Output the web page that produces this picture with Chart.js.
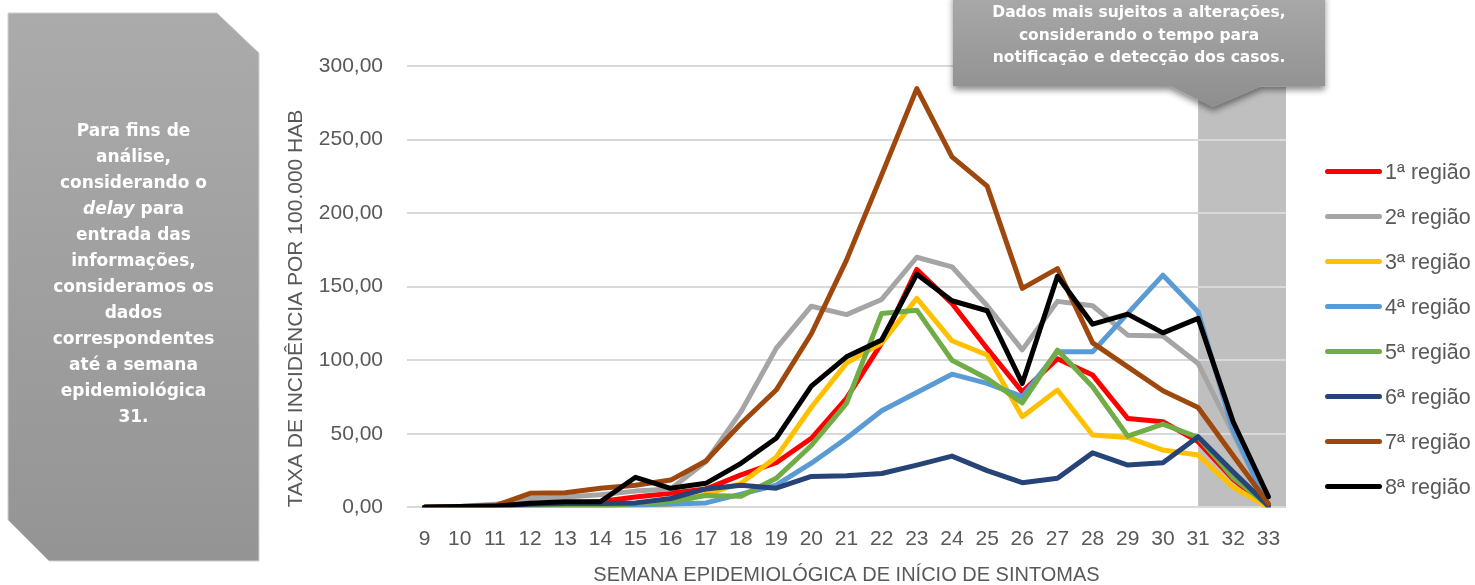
<!DOCTYPE html>
<html><head><meta charset="utf-8">
<script src="https://cdn.jsdelivr.net/npm/chart.js@4.4.1/dist/chart.umd.min.js"></script>
<style>
html,body{margin:0;padding:0;background:#fff;width:1475px;height:585px;overflow:hidden;}
#wrap{position:absolute;left:0;top:0;width:1475px;height:585px;}
#shapes{position:absolute;left:0;top:0;width:1475px;height:585px;pointer-events:none;}
.note{position:absolute;color:#fff;font-family:"DejaVu Sans",Verdana,sans-serif;font-weight:bold;text-align:center;}
#leftText{left:8px;width:251px;top:117px;font-size:17px;line-height:26px;}
#topText{left:953px;width:372px;top:1px;font-size:15.5px;line-height:22.5px;}
#legend{position:absolute;left:1325px;top:150px;font-family:"Liberation Sans",Arial,sans-serif;font-size:21.5px;color:#595959;}
.li{position:absolute;left:0;height:30px;white-space:nowrap;}
.li .sw{position:absolute;left:0;top:12px;width:57px;height:5px;border-radius:3px;}
.li .tx{position:absolute;left:60px;top:0;line-height:30px;}
</style></head><body>
<div id="wrap"><canvas id="c" width="1475" height="585"></canvas></div>
<svg id="shapes" width="1475" height="585" xmlns="http://www.w3.org/2000/svg">
  <defs>
    <linearGradient id="gL" x1="0" y1="0" x2="0" y2="1">
      <stop offset="0" stop-color="#ababab"/><stop offset="1" stop-color="#949494"/>
    </linearGradient>
    <linearGradient id="gT" x1="0" y1="0" x2="0" y2="1">
      <stop offset="0" stop-color="#a9a9a9"/><stop offset="1" stop-color="#8e8e8e"/>
    </linearGradient>
    <filter id="sh" x="-10%" y="-10%" width="120%" height="140%">
      <feDropShadow dx="0" dy="4" stdDeviation="3" flood-color="#000" flood-opacity="0.45"/>
    </filter>
  </defs>
  <polygon points="8,13 217,13 259,53 259,561 49,561 8,520" fill="url(#gL)" stroke="#d0d0d0" stroke-width="1"/>
  <path d="M953,-6 L1325,-6 L1325,86 L1262,86 L1213,107 L1170,86 L953,86 Z" fill="url(#gT)" filter="url(#sh)"/>
</svg>
<div class="note" id="leftText">Para fins de<br>análise,<br>considerando o<br><i>delay</i> para<br>entrada das<br>informações,<br>consideramos os<br>dados<br>correspondentes<br>até a semana<br>epidemiológica<br>31.</div>
<div class="note" id="topText">Dados mais sujeitos a alterações,<br>considerando o tempo para<br>notificação e detecção dos casos.</div>
<div id="legend"></div>
<script>
const weeks = ['9','10','11','12','13','14','15','16','17','18','19','20','21','22','23','24','25','26','27','28','29','30','31','32','33'];
const regiao1 = [0,0.3,0.5,1.5,2.5,4,7,9.5,12.4,22,30.3,46.9,74,111.6,161.7,138.6,108,78.5,101,89.9,60.4,58.2,44.6,19,0];
const regiao2 = [0,0.5,2,6,7,8.5,11,12.5,31,65,108,136.7,131,141.3,170,163.5,137,107,140,137,117,116.4,97.8,50,1];
const regiao3 = [0,0,0,0.2,0.3,0.5,1,2,9,16.3,34,68,98,111.6,142,113.2,103.5,61.6,79.7,49.1,47.5,38.9,35.5,13.6,0];
const regiao4 = [0,0,0,0.3,0.5,1,1.6,2.3,3,9,15,30,47,65.6,78,90.5,84.2,75.2,105.7,105.7,131.8,157.8,132.9,52,1];
const regiao5 = [0,0,0,0,0.2,0.5,2.6,3.9,8,7.5,19.7,42,70.6,131.8,134,100,87.6,71,106.9,82,48.4,56.6,47.5,20,1];
const regiao6 = [0,0.3,0.5,2,2.5,2.5,3,6,12.5,15,13,21,21.5,23,28.7,34.8,24.9,16.7,19.7,37,28.7,30.3,48,24,1];
const regiao7 = [0,0.5,1,9.5,9.9,12.9,15,18.5,31.5,57,79.7,118,168,226,284.6,238.2,218.3,148.8,162.3,111.8,95.5,79.2,67.9,35,2.5];
const regiao8 = [0,0.5,0.8,2.7,3.8,3.8,20.4,12.9,16.3,29.9,46.9,82.4,102.3,113.7,158.5,140.4,133.6,84.2,157.1,124.5,131.3,118.6,128.4,58,7.2];
const seriesNames = ['1ª região','2ª região','3ª região','4ª região','5ª região','6ª região','7ª região','8ª região'];
const seriesValues = [regiao1,regiao2,regiao3,regiao4,regiao5,regiao6,regiao7,regiao8];
const seriesColors = ['#FF0000','#A5A5A5','#FFC000','#5B9BD5','#70AD47','#264478','#9E480E','#000000'];
const yTicks = [0,50,100,150,200,250,300];
const shadeFromWeek = '31';

const datasets = seriesValues.map((v,i)=>({
  label: seriesNames[i], data: v, borderColor: seriesColors[i], backgroundColor: seriesColors[i],
  borderWidth: 5, pointRadius: 0, pointHoverRadius: 0, tension: 0,
  borderJoinStyle: 'round', borderCapStyle: 'round', fill: false,
  order: seriesValues.length - 1 - i
}));

const shadePlugin = {
  id: 'shade',
  beforeDraw(chart){
    const {ctx, chartArea, scales} = chart;
    const x0 = scales.x.getPixelForValue(weeks.indexOf(shadeFromWeek));
    ctx.save();
    ctx.fillStyle = '#bfbfbf';
    ctx.fillRect(x0, 87, chartArea.right - x0, chartArea.bottom - 87);
    ctx.restore();
  }
};

const fam = '"Liberation Sans", Arial, sans-serif';
const tickFont = {family: fam, size: 21};

new Chart(document.getElementById('c'), {
  type: 'line',
  data: {labels: weeks, datasets},
  plugins: [shadePlugin],
  options: {
    responsive: false, animation: false, events: [],
    layout: {padding: {left: 285, top: 66, right: 189, bottom: 0}},
    plugins: {legend: {display: false}, tooltip: {enabled: false}},
    scales: {
      x: {
        offset: true,
        grid: {display: false, drawTicks: false},
        border: {display: false},
        ticks: {color: '#595959', font: tickFont, padding: 19, maxRotation: 0, autoSkip: false},
        title: {display: true, text: 'SEMANA EPIDEMIOLÓGICA DE INÍCIO DE SINTOMAS', color: '#595959', font: {family: fam, size: 20, lineHeight: 1}, padding: {top: 0, bottom: 0}},
        afterFit(s){ s.height = 77.7; }
      },
      y: {
        min: 0, max: 300,
        afterBuildTicks(s){ s.ticks = yTicks.map(v=>({value:v})); },
        grid: {color: '#d9d9d9', lineWidth: 2, drawTicks: false},
        border: {display: false},
        ticks: {color: '#595959', font: tickFont, padding: 24, callback: v => v.toFixed(2).replace('.', ',')},
        title: {display: true, text: 'TAXA DE INCIDÊNCIA POR 100.000 HAB', color: '#595959', font: {family: fam, size: 21, lineHeight: 1.1}, align: 'start', padding: {top: 0, bottom: 0}},
        afterFit(s){ s.width = 122; }
      }
    }
  }
});

const leg = document.getElementById('legend');
seriesNames.forEach((n,i)=>{
  const d = document.createElement('div');
  d.className = 'li';
  d.style.top = (i*45 + 7) + 'px';
  d.innerHTML = '<span class="sw" style="background:'+seriesColors[i]+'"></span><span class="tx">'+n+'</span>';
  leg.appendChild(d);
});
</script>
</body></html>
